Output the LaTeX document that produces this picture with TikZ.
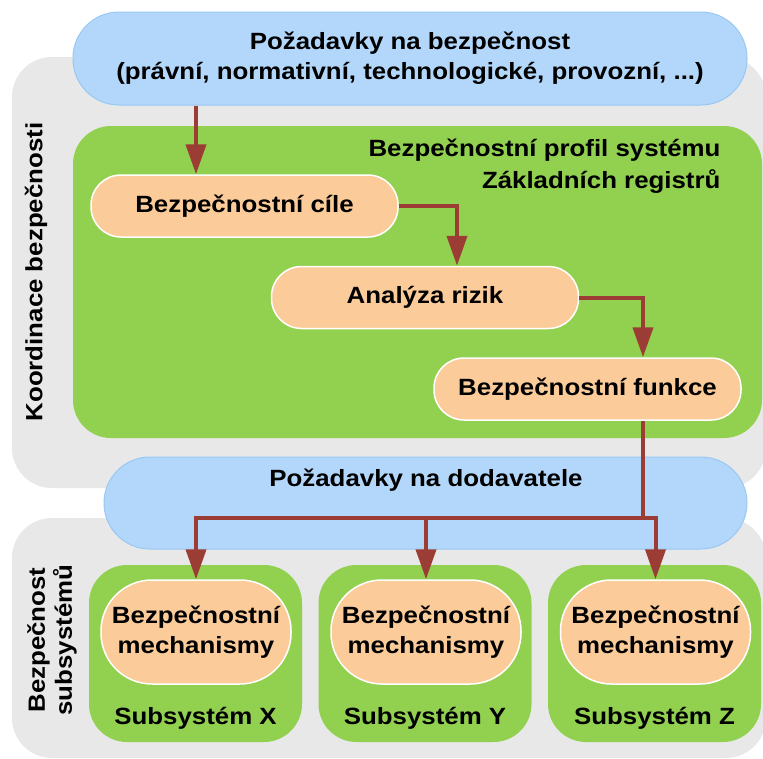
\documentclass[tikz,border=0pt]{standalone}
\usepackage{fontspec}
\setmainfont{Liberation Sans}[FakeStretch=1.1]
\usetikzlibrary{arrows.meta}
\definecolor{areagray}{HTML}{E8E8E8}
\definecolor{reqblue}{HTML}{B3D7FB}
\definecolor{reqline}{HTML}{98C8F2}
\definecolor{profgreen}{HTML}{92D050}
\definecolor{goalorange}{HTML}{FBCB9A}
\definecolor{flowred}{HTML}{9C3D35}

\begin{document}
\begin{tikzpicture}[x=1pt, y=-1pt,
            font=\fontsize{23.5}{30}\selectfont\bfseries,
            area/.style={fill=areagray, rounded corners=40pt},
            req/.style={draw=reqline, fill=reqblue, line width=1pt, align=center},
            goal/.style={draw=white, fill=goalorange, line width=1.5pt, rounded corners=30pt, minimum width=307pt, minimum height=62pt},
            subsys/.style={fill=profgreen, rounded corners=38pt, minimum width=213pt, minimum height=177pt},
            mech/.style={draw=white, fill=goalorange, line width=1.5pt, rounded corners=51pt, minimum width=190pt, minimum height=104pt, align=center},
            flow/.style={draw=flowred, line width=4pt, -{Triangle[width=20pt,length=30pt]}},
            link/.style={draw=flowred, line width=4pt}
            ]
            \useasboundingbox (0,0) rectangle (763,758);

            \fill[area] (12,57) rectangle (766,488);
            \fill[area] (12,518) rectangle (766,758);
            \node[rotate=90] (koord) at (36,272) {Koordinace bezpečnosti};
            \node[rotate=90, align=center, font=\fontsize{23.5}{27}\selectfont\bfseries] (bsub) at (52,640) {Bezpečnost\\subsystémů};

            \node[req, rounded corners=46pt, minimum width=674pt, minimum height=93pt] (req) at (410,58.5)
                {Požadavky na bezpečnost\\(právní, normativní, technologické, provozní, ...)};

            \fill[profgreen, rounded corners=38pt] (73,126) rectangle (762,438);
            \node[anchor=east, align=right, font=\fontsize{23.5}{32}\selectfont\bfseries] (profil) at (724,166)
                {Bezpečnostní profil systému\\Základních registrů};

            \node[goal] (cile) at (244.5,206) {Bezpečnostní cíle};
            \node[goal] (rizika) at (425,297.5) {Analýza rizik};
            \node[goal] (funkce) at (587.5,389) {Bezpečnostní funkce};

            \node[req, rounded corners=46pt, minimum width=643pt, minimum height=92pt] (dod) at (425.5,503) {};
            \node (dodtxt) at (426,480) {Požadavky na dodavatele};

            \node[subsys] (subX) at (195.5,653.5) {};
            \node[subsys] (subY) at (425,653.5) {};
            \node[subsys] (subZ) at (654.5,653.5) {};
            \node[mech] (mechX) at (196,632) {Bezpečnostní\\mechanismy};
            \node[mech] (mechY) at (426,632) {Bezpečnostní\\mechanismy};
            \node[mech] (mechZ) at (655.5,632) {Bezpečnostní\\mechanismy};
            \node (nameX) at (195.5,718) {Subsystém X};
            \node (nameY) at (425,718) {Subsystém Y};
            \node (nameZ) at (654.5,718) {Subsystém Z};

            \coordinate (c1) at (196,0);
            \coordinate (c2) at (457,0);
            \coordinate (c3) at (643,0);
            \coordinate (split) at (643,518);

            \draw[flow] (req.south -| c1) -- (cile.north -| c1);
            \draw[flow] (cile.east) -| (c2 |- rizika.north);
            \draw[flow] (rizika.east) -| (c3 |- funkce.north);
            \draw[link] (funkce.south -| split) -- (split);
            \draw[flow] (split) -| (mechX.north);
            \draw[flow] (split) -| (mechY.north);
            \draw[flow] (split) -| (mechZ.north);

            \end{tikzpicture}
\end{document}
